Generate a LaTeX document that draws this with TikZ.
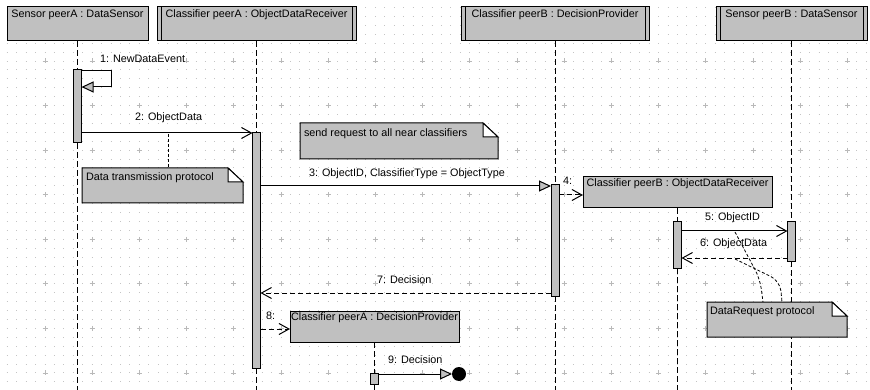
\documentclass[tikz,border=0pt]{standalone}
\usepackage{fontspec}
\setmainfont{Liberation Sans}
\usetikzlibrary{arrows.meta}
\definecolor{boxgray}{RGB}{192,192,192}
\definecolor{dotgray}{RGB}{196,196,196}
\definecolor{crossgray}{RGB}{185,185,185}
% note with a folded top-right corner, drawn around an empty node
\newcommand{\umlnote}[1]{%
  \draw[notebody] (#1.south west) -- (#1.north west) -- ([xshift=-15pt]#1.north east)
    -- ([yshift=-14pt]#1.north east) -- (#1.south east) -- cycle;
  \draw[notefold] ([xshift=-15pt]#1.north east) -- ([xshift=-15pt,yshift=-14pt]#1.north east)
    -- ([yshift=-14pt]#1.north east) -- cycle;}
\begin{document}
\begin{tikzpicture}[x=1pt,y=-1pt,
  font=\fontsize{10.8}{12}\selectfont,
  every node/.style={inner sep=0pt,outer sep=0pt},
  objbox/.style={draw,fill=boxgray,line width=1pt,anchor=north west},
  actbar/.style={draw,fill=boxgray,line width=1pt,anchor=north,minimum width=8pt},
  area/.style={anchor=north west},
  lbl/.style={anchor=mid west},
  ttl/.style={anchor=mid},
  lifeline/.style={line width=1pt,dash pattern=on 6pt off 3pt},
  sync/.style={line width=1pt,-{Triangle[length=12pt,width=11pt,fill=boxgray]}},
  call/.style={line width=1pt,-{Straight Barb[length=10pt,width=11pt]}},
  ret/.style={line width=1pt,dash pattern=on 5pt off 3pt,-{Straight Barb[length=10pt,width=11pt]}},
  anchorline/.style={line width=0.8pt,dash pattern=on 3pt off 2pt},
  notebody/.style={draw,fill=boxgray,line width=1pt},
  notefold/.style={draw,fill=white,line width=1pt},
]
\useasboundingbox (0,0) rectangle (870,390);
\fill[white] (0,0) rectangle (870,390);

% drawing grid: minor dots and major crosses
\foreach \j in {0,...,42}
  \draw[dotgray,line width=1pt,dash pattern=on 1pt off 8.44pt]
    (6.74,{7.52+8.914*\j}) -- (870,{7.52+8.914*\j});
\foreach \i in {0,...,17}
  \foreach \j in {0,...,7}
    \draw[crossgray,line width=0.8pt]
      ({45+47.2*\i-2.5},{61+44.57*\j}) -- ++(5,0)
      ({45+47.2*\i},{61+44.57*\j-2.5}) -- ++(0,5);

% message rows
\coordinate (row1a) at (0,71);
\coordinate (row1b) at (0,87);
\coordinate (loop1) at (111,0);
\coordinate (row2) at (0,133);
\coordinate (row3) at (0,186);
\coordinate (row4) at (0,195);
\coordinate (row5) at (0,231);
\coordinate (row6) at (0,258);
\coordinate (row7) at (0,293);
\coordinate (row8) at (0,329);
\coordinate (row9) at (0,374);
\coordinate (bottom) at (0,392);

% object heads
\node[objbox,minimum width=141pt,minimum height=34pt] (hA) at (7,7) {};
\node[ttl] (hAt) at ([yshift=-8pt]hA.north) {Sensor peerA : DataSensor};
\node[objbox,minimum width=199pt,minimum height=34pt] (hB) at (157,7) {};
\node[ttl] (hBt) at ([yshift=-8pt]hB.north) {Classifier peerA : ObjectDataReceiver};
\node[objbox,minimum width=188pt,minimum height=34pt] (hC) at (461,7) {};
\node[ttl] (hCt) at ([yshift=-8pt]hC.north) {Classifier peerB : DecisionProvider};
\node[objbox,minimum width=151pt,minimum height=34pt] (hD) at (716,7) {};
\node[ttl] (hDt) at ([yshift=-8pt]hD.north) {Sensor peerB : DataSensor};
\node[objbox,minimum width=189pt,minimum height=31pt] (hE) at (583,177) {};
\node[ttl] (hEt) at ([yshift=-7pt]hE.north) {Classifier peerB : ObjectDataReceiver};
\node[objbox,minimum width=169pt,minimum height=31pt] (hF) at (290,311) {};
\node[ttl] (hFt) at ([yshift=-7pt]hF.north) {Classifier peerA : DecisionProvider};

% active objects carry a double border
\foreach \h in {hB,hC,hD}{
  \draw[line width=1pt] ([xshift=4.5pt]\h.north west) -- ([xshift=4.5pt]\h.south west);
  \draw[line width=1pt] ([xshift=-4pt]\h.north east) -- ([xshift=-4pt]\h.south east);
}

% activation bars
\node[actbar,minimum height=73pt] (actA) at (77.5,70) {};
\node[actbar,minimum height=235pt] (actB) at (256.5,133) {};
\node[actbar,minimum height=111pt] (actC) at (555,185) {};
\node[actbar,minimum height=39pt] (actD) at (791.5,222) {};
\node[actbar,minimum height=46pt] (actE) at (677.5,222) {};
\node[actbar,minimum height=11pt] (actF) at (374.5,373) {};

% lifelines
\draw[lifeline] (hA.south) -- (actA.north);
\draw[lifeline] (actA.south) -- (actA.south |- bottom);
\draw[lifeline] (hB.south) -- (actB.north);
\draw[lifeline] (actB.south) -- (actB.south |- bottom);
\draw[lifeline] (hC.south) -- (actC.north);
\draw[lifeline] (actC.south) -- (actC.south |- bottom);
\draw[lifeline] (hD.south) -- (actD.north);
\draw[lifeline] (actD.south) -- (actD.south |- bottom);
\draw[lifeline] (hE.south) -- (actE.north);
\draw[lifeline] (actE.south) -- (actE.south |- bottom);
\draw[lifeline] (hF.south) -- (actF.north);
\draw[lifeline] (actF.south) -- (actF.south |- bottom);

% messages
\draw[sync] (actA.east |- row1a) -- (loop1 |- row1a) -- (loop1 |- row1b) -- (actA.east |- row1b);
\node[lbl] (m1) at (100,60) {1: NewDataEvent};

\draw[call] (actA.east |- row2) -- (actB.west |- row2);
\node[lbl] (m2) at (135,118) {2: ObjectData};

\draw[sync] (actB.east |- row3) -- (actC.west |- row3);
\node[lbl] (m3) at (309,174) {3: ObjectID, ClassifierType = ObjectType};

\draw[ret] (actC.east |- row4) -- (hE.west |- row4);
\node[lbl] (m4) at (563,182) {4:};

\draw[call] (actE.east |- row5) -- (actD.west |- row5);
\node[lbl] (m5) at (705,218) {5: ObjectID};

\draw[ret] (actD.west |- row6) -- (actE.east |- row6);
\node[lbl] (m6) at (700,244) {6: ObjectData};

\draw[ret] (actC.west |- row7) -- (actB.east |- row7);
\node[lbl] (m7) at (377,281) {7: Decision};

\draw[ret] (actB.east |- row8) -- (hF.west |- row8);
\node[lbl] (m8) at (266,317) {8:};

\node[circle,fill=black,minimum size=14pt] (lost) at (459,374) {};
\draw[sync] (actF.east |- row9) -- (lost.west);
\node[lbl] (m9) at (388,361) {9: Decision};

% notes
\node[area,minimum width=161pt,minimum height=35pt] (n1) at (82,168) {};
\umlnote{n1}
\node[lbl] (n1t) at ([xshift=4pt,yshift=-10pt]n1.north west) {Data transmission protocol};
\coordinate (n1a) at (168,134);
\draw[anchorline] (n1a) -- (n1a |- n1.north);

\node[area,minimum width=198pt,minimum height=36pt] (n2) at (300,123) {};
\umlnote{n2}
\node[lbl] (n2t) at ([xshift=4pt,yshift=-11pt]n2.north west) {send request to all near classifiers};

\node[area,minimum width=140pt,minimum height=35pt] (n3) at (707,302) {};
\coordinate (n3a) at (735,232);
\coordinate (n3b) at (735,259);
\coordinate (n3c) at (763,0);
\coordinate (n3d) at (782,0);
\draw[anchorline,rounded corners=10pt] (n3a) -- (760,279) -- (n3.north -| n3c);
\draw[anchorline,rounded corners=10pt] (n3b) -- (780,281) -- (n3.north -| n3d);
\umlnote{n3}
\node[lbl] (n3t) at ([xshift=3pt,yshift=-10pt]n3.north west) {DataRequest protocol};
\end{tikzpicture}
\end{document}
